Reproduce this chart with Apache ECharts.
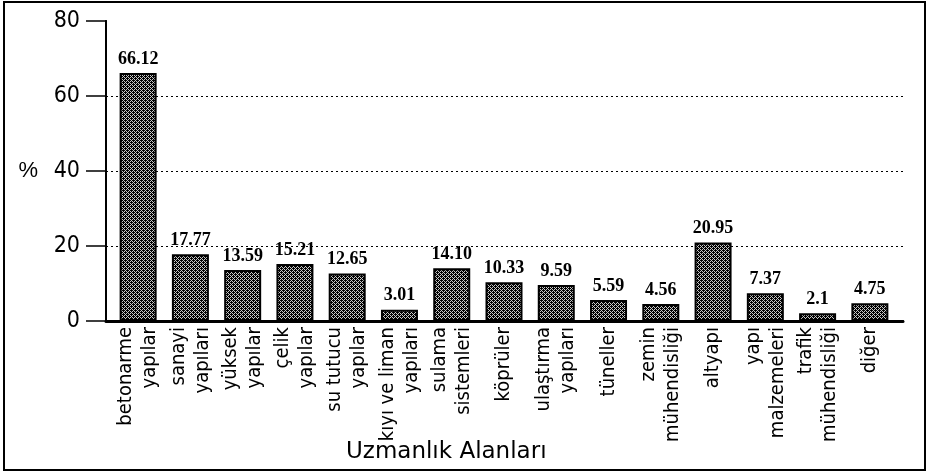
<!DOCTYPE html>
<html><head><meta charset="utf-8">
<script src="https://cdn.jsdelivr.net/npm/echarts@6/dist/echarts.min.js"></script>
<style>html,body{margin:0;padding:0;background:#fff}#c{width:930px;height:473px}</style>
</head><body><div id="c"></div>
<script>
const categories = [
  'betonarme\nyapılar', 'sanayi\nyapıları', 'yüksek\nyapılar', 'çelik\nyapılar',
  'su tutucu\nyapılar', 'kıyı ve liman\nyapıları', 'sulama\nsistemleri', 'köprüler',
  'ulaştırma\nyapıları', 'tüneller', 'zemin\nmühendisliği', 'altyapı',
  'yapı\nmalzemeleri', 'trafik\nmühendisliği', 'diğer'
];
const values = [66.12, 17.77, 13.59, 15.21, 12.65, 3.01, 14.10, 10.33, 9.59, 5.59, 4.56, 20.95, 7.37, 2.1, 4.75];
const valueLabels = ['66.12', '17.77', '13.59', '15.21', '12.65', '3.01', '14.10', '10.33', '9.59', '5.59', '4.56', '20.95', '7.37', '2.1', '4.75'];
const yMin = 0, yMax = 80, yStep = 20;
const yName = '%';
const xName = 'Uzmanlık Alanları';

// dithered fill pattern
const pc = document.createElement('canvas');
pc.width = 4; pc.height = 4;
const g = pc.getContext('2d');
g.fillStyle = '#c8c8c8'; g.fillRect(0, 0, 4, 4);
g.fillStyle = '#000';
[[0,0],[2,0],[1,1],[3,1],[0,2],[2,2],[1,3],[3,3],[1,0],[3,2]].forEach(([x,y]) => g.fillRect(x, y, 1, 1));

const narrow = '"DejaVu Sans Condensed", "Liberation Sans Narrow", "Arial Narrow", sans-serif';
const chart = echarts.init(document.getElementById('c'), null, {renderer: 'canvas'});
chart.setOption({
  animation: false,
  backgroundColor: '#fff',
  title: {
    text: xName, left: 341, top: 436,
    textStyle: {fontFamily: '"DejaVu Sans", sans-serif', fontSize: 23, fontWeight: 'normal', color: '#000'}
  },
  graphic: [{
    type: 'rect', shape: {x: 4, y: 2, width: 921, height: 468},
    style: {fill: 'none', stroke: '#000', lineWidth: 2}, silent: true
  }],
  grid: [
    {left: 112, right: 34, top: 21, bottom: 152},
    {left: 106, right: 27, top: 21, bottom: 152}
  ],
  xAxis: [
    {gridIndex: 0, type: 'category', data: categories,
     axisLine: {show: false}, axisTick: {show: false},
     axisLabel: {rotate: 90, interval: 0, margin: 6, fontFamily: narrow, fontSize: 20, lineHeight: 24, color: '#000'}},
    {gridIndex: 1, type: 'value', min: 0, max: 1, position: 'bottom',
     axisLine: {lineStyle: {color: '#000', width: 3}}, axisTick: {show: false}, axisLabel: {show: false}, splitLine: {show: false}},
    {gridIndex: 1, type: 'value', min: 0, max: 1, position: 'top',
     axisLine: {lineStyle: {color: '#000', width: 2}}, axisTick: {show: false}, axisLabel: {show: false}, splitLine: {show: false}}
  ],
  yAxis: [
    {gridIndex: 0, type: 'value', min: yMin, max: yMax, interval: yStep, show: false},
    {gridIndex: 1, type: 'value', min: yMin, max: yMax, interval: yStep, position: 'left',
     name: yName, nameLocation: 'middle', nameRotate: 0, nameGap: 68,
     nameTextStyle: {fontFamily: '"Liberation Sans", Arial, sans-serif', fontSize: 22, color: '#000'},
     axisLine: {show: true, lineStyle: {color: '#000', width: 2}},
     axisTick: {show: true, inside: false, length: 20, lineStyle: {color: '#000', width: 1.5}},
     axisLabel: {margin: 26, fontFamily: narrow, fontSize: 23, color: '#000'},
     splitLine: {show: true, showMinLine: false, showMaxLine: false, lineStyle: {color: '#000', width: 1, type: [2, 3]}}},
    {gridIndex: 1, type: 'value', min: yMin, max: yMax, interval: yStep, position: 'right',
     axisLine: {show: true, lineStyle: {color: '#000', width: 2}},
     axisTick: {show: false}, axisLabel: {show: false}, splitLine: {show: false}}
  ],
  series: [{
    type: 'bar', xAxisIndex: 0, yAxisIndex: 0, data: values, barWidth: 37,
    itemStyle: {color: {image: pc, repeat: 'repeat'}, borderColor: '#000', borderWidth: 2},
    label: {show: true, position: 'top', distance: 5, formatter: p => valueLabels[p.dataIndex],
      fontFamily: '"Liberation Serif", "Times New Roman", serif', fontSize: 18, fontWeight: 'bold', color: '#000'}
  }]
});
</script></body></html>
